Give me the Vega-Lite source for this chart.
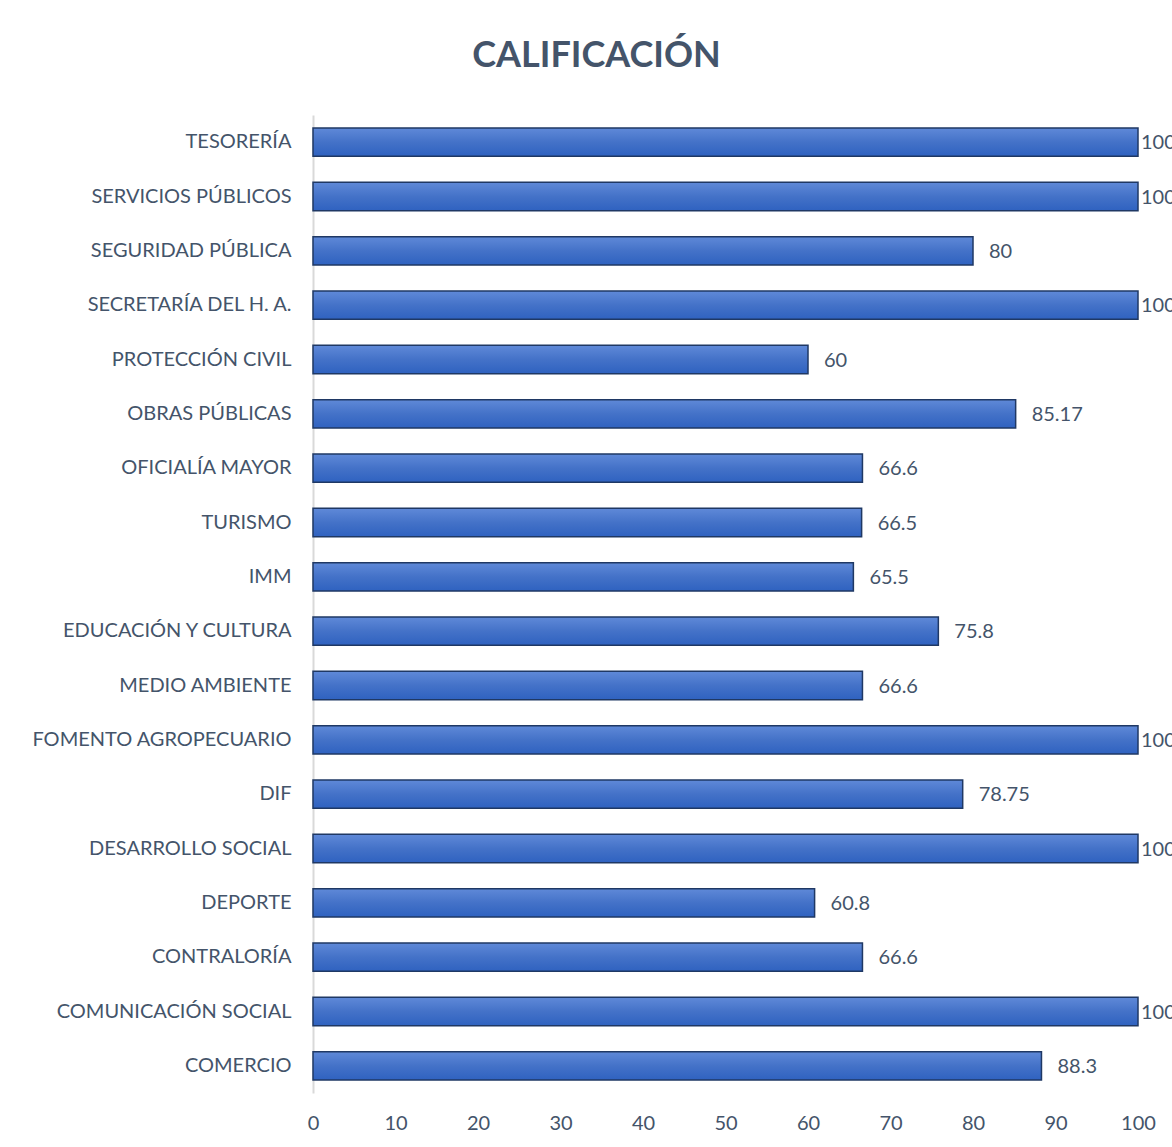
{
  "$schema": "https://vega.github.io/schema/vega-lite/v6.json",
  "autosize": "none",
  "width": 825,
  "height": 978,
  "padding": {"left": 313, "top": 115, "right": 34, "bottom": 54},
  "background": "white",
  "title": {
    "text": "CALIFICACIÓN",
    "font": "Lato",
    "fontSize": 36,
    "fontWeight": "bold",
    "color": "#44546a",
    "anchor": "middle",
    "dx": -129,
    "offset": 40
  },
  "data": {
    "values": [
      {"area": "TESORERÍA", "calificacion": 100},
      {"area": "SERVICIOS PÚBLICOS", "calificacion": 100},
      {"area": "SEGURIDAD PÚBLICA", "calificacion": 80},
      {"area": "SECRETARÍA DEL H. A.", "calificacion": 100},
      {"area": "PROTECCIÓN CIVIL", "calificacion": 60},
      {"area": "OBRAS PÚBLICAS", "calificacion": 85.17},
      {"area": "OFICIALÍA MAYOR", "calificacion": 66.6},
      {"area": "TURISMO", "calificacion": 66.5},
      {"area": "IMM", "calificacion": 65.5},
      {"area": "EDUCACIÓN Y CULTURA", "calificacion": 75.8},
      {"area": "MEDIO AMBIENTE", "calificacion": 66.6},
      {"area": "FOMENTO AGROPECUARIO", "calificacion": 100},
      {"area": "DIF", "calificacion": 78.75},
      {"area": "DESARROLLO SOCIAL", "calificacion": 100},
      {"area": "DEPORTE", "calificacion": 60.8},
      {"area": "CONTRALORÍA", "calificacion": 66.6},
      {"area": "COMUNICACIÓN SOCIAL", "calificacion": 100},
      {"area": "COMERCIO", "calificacion": 88.3}
    ]
  },
  "encoding": {
    "y": {
      "field": "area",
      "type": "nominal",
      "sort": null,
      "scale": {"paddingInner": 0.48, "paddingOuter": 0.24},
      "axis": {
        "title": null,
        "ticks": false,
        "domain": true,
        "domainColor": "#d9d9d9",
        "domainWidth": 2,
        "labelFont": "Lato",
        "labelFontSize": 20,
        "labelColor": "#44546a",
        "labelPadding": 22,
        "labelLimit": 0,
        "grid": false
      }
    },
    "x": {
      "field": "calificacion",
      "type": "quantitative",
      "scale": {"domain": [0, 100], "nice": false},
      "axis": {
        "title": null,
        "values": [0, 10, 20, 30, 40, 50, 60, 70, 80, 90, 100],
        "ticks": false,
        "domain": false,
        "grid": false,
        "labelFont": "Lato",
        "labelFontSize": 20,
        "labelColor": "#44546a",
        "labelPadding": 20,
        "labelFlush": false
      }
    }
  },
  "layer": [
    {
      "mark": {
        "type": "bar",
        "stroke": "#1f3864",
        "strokeWidth": 1.5,
        "color": {
          "gradient": "linear",
          "x1": 0, "y1": 0, "x2": 0, "y2": 1,
          "stops": [
            {"offset": 0, "color": "#5f89d8"},
            {"offset": 0.5, "color": "#4472c8"},
            {"offset": 1, "color": "#2f62c0"}
          ]
        }
      }
    },
    {
      "transform": [{"filter": "datum.calificacion < 100"}],
      "mark": {"type": "text", "align": "left", "baseline": "middle", "dx": 16, "dy": 1, "font": "Lato", "fontSize": 20, "color": "#44546a"},
      "encoding": {"text": {"field": "calificacion", "type": "quantitative"}}
    },
    {
      "transform": [{"filter": "datum.calificacion >= 100"}],
      "mark": {"type": "text", "align": "left", "baseline": "middle", "dx": 3, "dy": 1, "font": "Lato", "fontSize": 20, "color": "#44546a"},
      "encoding": {"text": {"field": "calificacion", "type": "quantitative"}}
    }
  ],
  "config": {"view": {"stroke": null}}
}
